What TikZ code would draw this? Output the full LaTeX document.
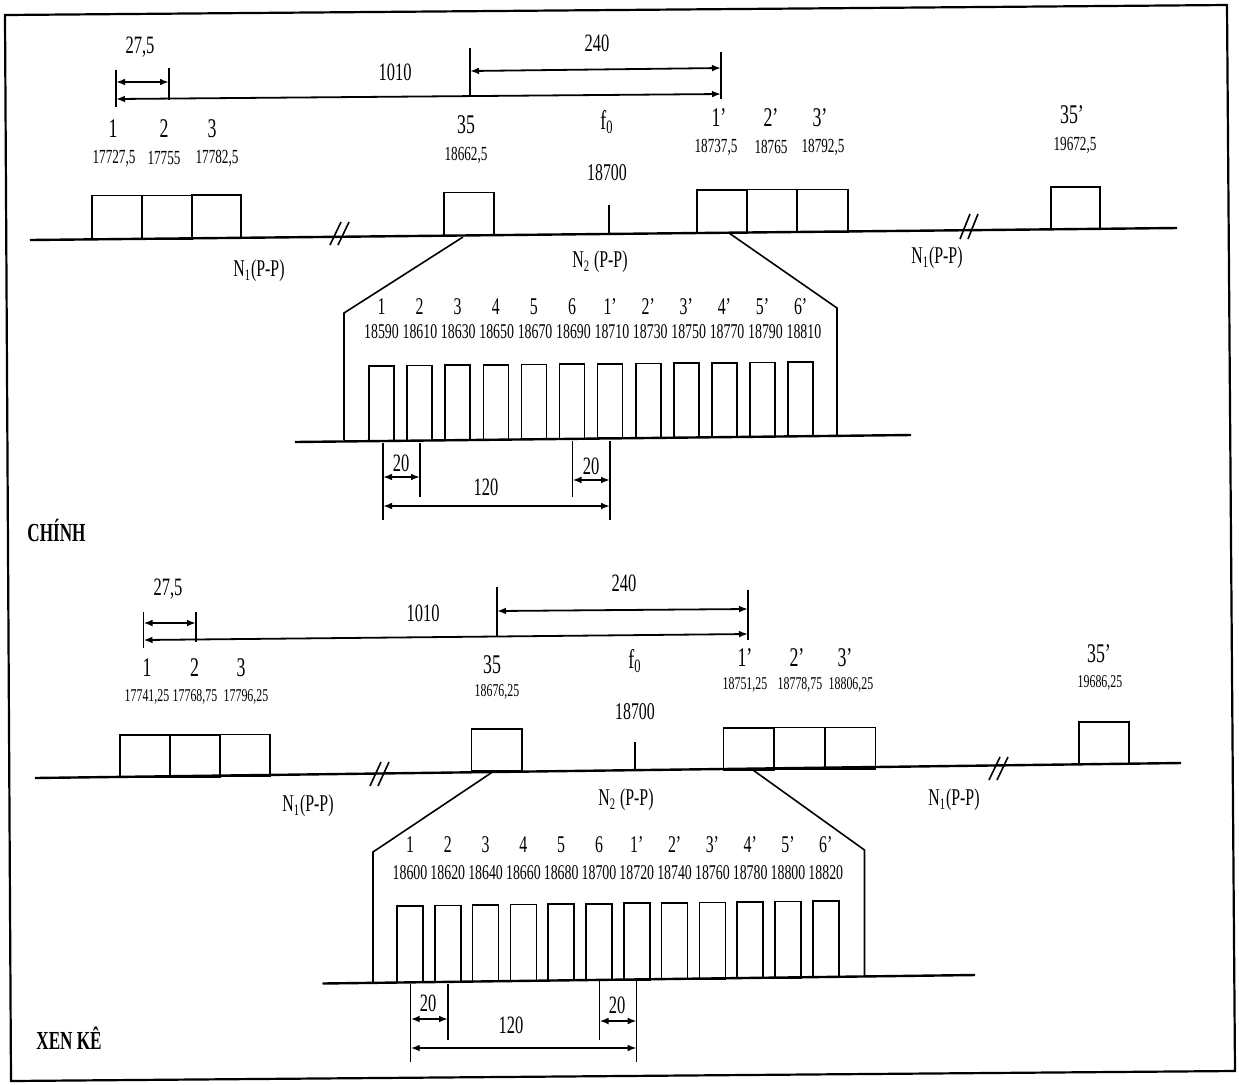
\documentclass[tikz,border=0pt]{standalone}
\usepackage{fontspec}
\setmainfont{Liberation Serif}[FakeStretch=0.66]
\usetikzlibrary{arrows.meta}
\begin{document}
\begin{tikzpicture}[x=0.5pt,y=-0.5pt,
  frame/.style={line width=1.1pt},
  baseln/.style={line width=1.2pt},
  chbox/.style={line width=0.8pt},
  tickln/.style={line width=0.55pt},
  slant/.style={line width=0.8pt},
  dimln/.style={line width=0.9pt,{Latex[length=4.5pt,width=3.4pt]}-{Latex[length=4.5pt,width=3.4pt]}},
  brk/.style={line width=0.8pt},
  dimlbl/.style={inner sep=0pt,font=\fontsize{12.5}{12.5}\selectfont},
  chlbl/.style={inner sep=0pt,font=\fontsize{13.5}{13.5}\selectfont},
  frlbl/.style={inner sep=0pt,font=\fontsize{10}{10}\selectfont},
  frlblb/.style={inner sep=0pt,font=\fontsize{9}{9}\selectfont},
  sublbl/.style={inner sep=0pt,font=\fontsize{12}{12}\selectfont},
  subfr/.style={inner sep=0pt,font=\fontsize{10.5}{10.5}\selectfont},
  nlbl/.style={inner sep=0pt,font=\fontsize{12}{12}\selectfont},
  title/.style={inner sep=0pt,anchor=west,font=\fontsize{13}{13}\selectfont\bfseries}]
\useasboundingbox (0,0) rectangle (1239,1084);
\draw[frame] (5,15) -- (1227,5) -- (1235,1071) -- (11,1081) -- cycle;

% ================= TOP (CHINH) =================
\draw[baseln] (30,240) -- (1177,228);
\draw[chbox] (92,239) rectangle (142,195.5);
\draw[chbox] (142,239) rectangle (192,195.5);
\draw[chbox] (192,238.5) rectangle (241,195);
\draw[chbox] (444,235.5) rectangle (494,192.5);
\draw[chbox] (697,233) rectangle (747,190);
\draw[chbox] (747,232.5) rectangle (797,189.5);
\draw[chbox] (797,232) rectangle (848,189.5);
\draw[chbox] (1051,229.5) rectangle (1100,187);
\draw[tickln] (609,234) -- (609,205);
\draw[brk] (330,245) -- (341,222) (338,245) -- (349,222);
\draw[brk] (960,239) -- (970,214) (968,239) -- (978,214);

\node[chlbl] (t1) at (113,129) {1};
\node[chlbl] (t2) at (164,129) {2};
\node[chlbl] (t3) at (212,129) {3};
\node[frlbl] (tf1) at (114,158) {17727,5};
\node[frlbl] (tf2) at (164,158) {17755};
\node[frlbl] (tf3) at (217,158) {17782,5};
\node[chlbl] (t35) at (466,125) {35};
\node[frlbl] (tf35) at (466,155) {18662,5};
\node[chlbl] (tf0) at (607,122) {f\textsubscript{0}};
\node[sublbl] (tc) at (607,173) {18700};
\node[chlbl] (t1p) at (719,118) {1'};
\node[chlbl] (t2p) at (771,118) {2'};
\node[chlbl] (t3p) at (820,118) {3'};
\node[frlbl] (tf1p) at (716,147) {18737,5};
\node[frlbl] (tf2p) at (771,147) {18765};
\node[frlbl] (tf3p) at (823,147) {18792,5};
\node[chlbl] (t35p) at (1072,115) {35'};
\node[frlbl] (tf35p) at (1075,145) {19672,5};
\node[nlbl] (tn1) at (259,271) {N\textsubscript{1}(P-P)};
\node[nlbl] (tn2) at (600,262) {N\textsubscript{2} (P-P)};
\node[nlbl] (tn3) at (937,258) {N\textsubscript{1}(P-P)};

% dimensions
\coordinate (da) at (116,99);
\coordinate (db) at (169,82);
\coordinate (dc) at (470,71);
\coordinate (dd) at (721,94);
\draw[tickln] (116,70) -- (116,107);
\draw[tickln] (169,68) -- (169,100);
\draw[tickln] (470,48) -- (470,97);
\draw[tickln] (721,52) -- (721,99);
\draw[dimln] (116,82) -- (db);
\draw[dimln] (da) -- (dd);
\draw[dimln] (dc) -- (721,68);
\node[dimlbl] (l275) at (140,47) {27,5};
\node[dimlbl] (l1010) at (395,72) {1010};
\node[dimlbl] (l240) at (597,43) {240};

% zoom-in
\coordinate (za) at (463,237);
\coordinate (zb) at (344,313);
\coordinate (zc) at (729,233);
\coordinate (zd) at (837,308);
\draw[slant] (za) -- (zb) -- (344,440);
\draw[slant] (zc) -- (zd) -- (837,436);
\draw[baseln] (295,442) -- (911,435);
\foreach \i in {0,...,11} {
  \pgfmathsetmacro\xl{369+38.1*\i}
  \pgfmathsetmacro\yb{441-5*\i/11}
  \pgfmathsetmacro\yt{366-4*\i/11}
  \draw[chbox] (\xl,\yb) rectangle (\xl+25,\yt);
  \edef\fr{\the\numexpr18590+20*\i\relax}
  \node[subfr] (sf\i) at (\xl+12.5+0.3*\i,332) {\fr};
}
\foreach \t [count=\i from 0] in {1,2,3,4,5,6,1',2',3',4',5',6'} {
  \node[sublbl] (sn\i) at ({381.5+38.1*\i},307) {\t};
}
\draw[tickln] (383,443) -- (383,520);
\draw[tickln] (420,443) -- (420,497);
\draw[tickln] (572.5,441) -- (572.5,497);
\draw[tickln] (610,441) -- (610,520);
\draw[dimln] (383,477) -- (420,477);
\draw[dimln] (572.5,480) -- (610,480);
\draw[dimln] (383,506) -- (610,506);
\node[dimlbl] (s20a) at (401,463) {20};
\node[dimlbl] (s20b) at (591,466) {20};
\node[dimlbl] (s120) at (486,487) {120};

\node[title] (chinh) at (27,530) {CHÍNH};

% ================= BOTTOM (XEN KE) =================
\draw[baseln] (35,778) -- (1181,763);
\draw[chbox] (120,777) rectangle (170,735);
\draw[chbox] (170,777) rectangle (220,735);
\draw[chbox] (220,776.5) rectangle (270,734.5);
\draw[chbox] (471.5,771) rectangle (522,729);
\draw[chbox] (723.5,770) rectangle (774,728);
\draw[chbox] (774,769.5) rectangle (825,727.5);
\draw[chbox] (825,769) rectangle (875.5,727.5);
\draw[chbox] (1079,763.5) rectangle (1129,722);
\draw[tickln] (635,769) -- (635,742);
\draw[brk] (370,786) -- (381,762) (378,786) -- (389,762);
\draw[brk] (989,780) -- (1000,757) (997,780) -- (1008,757);

\node[chlbl] (b1) at (147,668) {1};
\node[chlbl] (b2) at (194.5,668) {2};
\node[chlbl] (b3) at (241,668) {3};
\node[frlblb] (bf1) at (147,697) {17741,25};
\node[frlblb] (bf2) at (195,697) {17768,75};
\node[frlblb] (bf3) at (246,697) {17796,25};
\node[chlbl] (b35) at (492,665) {35};
\node[frlblb] (bf35) at (497,692) {18676,25};
\node[chlbl] (bf0) at (635,661) {f\textsubscript{0}};
\node[sublbl] (bc) at (635,712) {18700};
\node[chlbl] (b1p) at (745,658) {1'};
\node[chlbl] (b2p) at (797,658) {2'};
\node[chlbl] (b3p) at (845,658) {3'};
\node[frlblb] (bf1p) at (745,685) {18751,25};
\node[frlblb] (bf2p) at (800,685) {18778,75};
\node[frlblb] (bf3p) at (851,685) {18806,25};
\node[chlbl] (b35p) at (1099,654) {35'};
\node[frlblb] (bf35p) at (1100,683) {19686,25};
\node[nlbl] (bn1) at (308,806) {N\textsubscript{1}(P-P)};
\node[nlbl] (bn2) at (626,800) {N\textsubscript{2} (P-P)};
\node[nlbl] (bn3) at (954,800) {N\textsubscript{1}(P-P)};

% dimensions
\coordinate (ea) at (143.5,640);
\coordinate (eb) at (196,623);
\coordinate (ec) at (497,611);
\coordinate (ed) at (748,634);
\draw[tickln] (143.5,612) -- (143.5,648);
\draw[tickln] (196,612) -- (196,642);
\draw[tickln] (497,587) -- (497,637);
\draw[tickln] (748,590) -- (748,640);
\draw[dimln] (143.5,623) -- (eb);
\draw[dimln] (ea) -- (ed);
\draw[dimln] (ec) -- (748,609);
\node[dimlbl] (m275) at (168,589) {27,5};
\node[dimlbl] (m1010) at (423,613) {1010};
\node[dimlbl] (m240) at (624,583) {240};

% zoom-in
\coordinate (ya) at (494,771);
\coordinate (yb) at (373,852);
\coordinate (yc) at (753,770);
\coordinate (yd) at (864.5,850);
\draw[slant] (ya) -- (yb) -- (373,982);
\draw[slant] (yc) -- (yd) -- (864.5,976);
\draw[baseln] (322.5,983.5) -- (975,975);
\foreach \i in {0,...,11} {
  \pgfmathsetmacro\xl{397+37.8*\i}
  \pgfmathsetmacro\yb{982.5-5*\i/11}
  \pgfmathsetmacro\yt{906-5*\i/11}
  \draw[chbox] (\xl,\yb) rectangle (\xl+26,\yt);
  \edef\fr{\the\numexpr18600+20*\i\relax}
  \node[subfr] (tf\i) at (\xl+13,873) {\fr};
}
\foreach \t [count=\i from 0] in {1,2,3,4,5,6,1',2',3',4',5',6'} {
  \node[sublbl] (tn\i) at ({410+37.8*\i},845) {\t};
}
\draw[tickln] (410.7,984) -- (410.7,1062);
\draw[tickln] (448,984) -- (448,1040);
\draw[tickln] (599.5,980) -- (599.5,1040);
\draw[tickln] (636.7,980) -- (636.7,1062);
\draw[dimln] (410.7,1019) -- (448,1019);
\draw[dimln] (599.5,1021) -- (636.7,1021);
\draw[dimln] (410.7,1048) -- (636.7,1048);
\node[dimlbl] (u20a) at (428,1003) {20};
\node[dimlbl] (u20b) at (617,1005) {20};
\node[dimlbl] (u120) at (511,1025) {120};

\node[title] (xenke) at (36,1038) {XEN KÊ};
\end{tikzpicture}
\end{document}
